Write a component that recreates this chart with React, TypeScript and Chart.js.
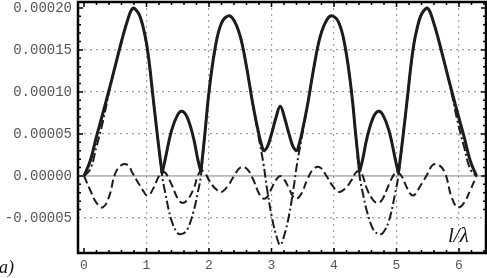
import React, { useEffect, useRef } from "react";
import { Chart, registerables } from "chart.js";

Chart.register(...registerables);

// all series values are in units of 1e-5
const UNIT = 1e-5;

const xPositions = [
  0, 0.1, 0.2, 0.3, 0.4, 0.5, 0.6, 0.7, 0.78, 0.85,
  0.9, 0.95, 1.0, 1.05, 1.1, 1.15, 1.2, 1.25, 1.3, 1.4,
  1.5, 1.57, 1.65, 1.75, 1.82, 1.87, 1.93, 2.0, 2.1, 2.2,
  2.31, 2.4, 2.5, 2.6, 2.7, 2.8, 2.87, 2.93, 3.0, 3.07,
  3.14,
  3.21, 3.28, 3.35, 3.41, 3.48, 3.58, 3.68, 3.78, 3.88, 3.97,
  4.08, 4.18, 4.28, 4.35, 4.41, 4.46, 4.53, 4.63, 4.71, 4.78,
  4.88, 4.98, 5.03, 5.08, 5.13, 5.18, 5.23, 5.28, 5.33, 5.38,
  5.43, 5.5, 5.58, 5.68, 5.78, 5.88, 5.98, 6.08, 6.18, 6.28,
];

// solid curve
const magnitude = [
  0, 1.8, 4.7, 7.4, 10.2, 13.1, 16.0, 18.6, 19.95, 19.6,
  18.9, 17.6, 15.8, 13.1, 9.7, 6.4, 3.2, 0.3, 2.0, 5.4,
  7.3, 7.7, 7.0, 4.6, 2.0, 0.5, 4.7, 10.0, 15.3, 18.2,
  19.05, 18.5, 16.6, 13.0, 8.6, 4.9, 2.9, 3.4, 5.0, 6.9,
  8.3,
  6.9, 5.0, 3.4, 2.9, 4.9, 8.6, 13.0, 16.6, 18.5, 19.05,
  18.2, 15.3, 10.0, 4.7, 0.5, 2.0, 4.6, 7.0, 7.7, 7.3,
  5.4, 2.0, 0.3, 3.2, 6.4, 9.7, 13.1, 15.8, 17.6, 18.9,
  19.6, 19.95, 18.6, 16.0, 13.1, 10.2, 7.4, 4.7, 1.8, 0,
];

// dash-dot curve
const realPart = [
  0, 0.8, 3.5, 6.4, 9.9, 13.1, 16.0, 18.6, 19.95, 19.6,
  18.9, 17.5, 15.6, 12.9, 9.6, 6.3, 3.2, 0, -2.0, -5.3,
  -6.8, -6.9, -6.4, -4.3, -2.0, 0, 4.7, 10.0, 15.2, 18.1,
  19.0, 18.5, 16.6, 13.0, 8.6, 4.4, 1.5, -1.6, -4.7, -6.9,
  -8.2,
  -6.9, -4.7, -1.6, 1.5, 4.4, 8.6, 13.0, 16.6, 18.5, 19.0,
  18.1, 15.2, 10.0, 4.7, 0, -2.0, -4.3, -6.4, -6.9, -6.8,
  -5.3, -2.0, 0, 3.2, 6.3, 9.6, 12.9, 15.6, 17.5, 18.9,
  19.6, 19.95, 18.6, 16.0, 13.1, 9.9, 6.4, 3.5, 0.8, 0,
];

// dashed curve
const imagPart = [
  0, -1.7, -3.2, -3.75, -2.5, 0.3, 1.3, 1.3, 0.3, -0.6,
  -1.2, -1.8, -2.3, -2.2, -1.6, -0.8, 0, 0.4, 0.4, -1.0,
  -2.7, -3.2, -2.9, -1.6, 0, 0.6, 0.4, -0.5, -1.5, -1.9,
  -1.1, 0, 1.0, 0.9, -0.3, -2.1, -2.7, -2.5, -1.5, -0.5,
  0,
  -0.5, -1.5, -2.5, -2.7, -2.1, -0.3, 0.9, 1.0, 0, -1.1,
  -1.9, -1.5, -0.5, 0.4, 0.6, 0, -1.6, -2.9, -3.2, -2.7,
  -1.0, 0.4, 0.4, 0, -0.8, -1.6, -2.2, -2.3, -1.8, -1.2,
  -0.6, 0.3, 1.3, 1.3, 0.3, -2.5, -3.75, -3.2, -1.7, 0,
];

// positions where the solid curve has a sharp corner
const solidCorners = [1.25, 1.87, 2.87, 3.41, 4.41, 5.03];

const X_MIN = -0.096;
const X_MAX = 6.432;
const Y_MIN = -0.0000917;
const Y_MAX = 0.000207;
const Y_STEP = 0.00005;
const X_STEP = 1;
const xAxisTitle = "l/\u03bb";
const panelLabel = "a)";

const MONO = '"Liberation Mono", "DejaVu Sans Mono", monospace';
const SERIF = '"Liberation Serif", "DejaVu Serif", serif';
const INK = "#1c1c1c";

export default function App() {
  const ref = useRef<HTMLCanvasElement>(null);

  useEffect(() => {
    if (!ref.current) return;
    const toPts = (arr: number[]) => xPositions.map((x, i) => ({ x, y: arr[i] * UNIT }));

    // split the solid curve into smooth pieces between its corners
    const solidPieces: { x: number; y: number }[][] = [];
    let cur: { x: number; y: number }[] = [];
    xPositions.forEach((x, i) => {
      const p = { x, y: magnitude[i] * UNIT };
      cur.push(p);
      if (solidCorners.some((c) => Math.abs(c - x) < 1e-9)) {
        solidPieces.push(cur);
        cur = [p];
      }
    });
    solidPieces.push(cur);

    const solidSets = solidPieces.map((pts, k) => ({
      label: "magnitude" + k,
      data: pts,
      borderColor: INK,
      borderWidth: 3,
      pointRadius: 0,
      tension: 0.4,
      borderJoinStyle: "round",
      fill: false,
    }));

    const framePlugin = {
      id: "frameDecor",
      beforeDatasetsDraw(chart: any) {
        const { ctx, chartArea: a, scales } = chart;
        const yz = scales.y.getPixelForValue(0);
        ctx.save();
        ctx.strokeStyle = "#808080";
        ctx.lineWidth = 1;
        ctx.beginPath();
        ctx.moveTo(a.left, yz);
        ctx.lineTo(a.right, yz);
        ctx.stroke();
        ctx.restore();
      },
      afterDraw(chart: any) {
        const { ctx, chartArea: a, scales } = chart;
        const xs = scales.x;
        const ys = scales.y;
        ctx.save();
        ctx.strokeStyle = "#000";
        ctx.lineWidth = 1.5;
        ctx.beginPath();
        for (let k = -4; k <= 20; k++) {
          const v = k * 0.00001;
          if (v < Y_MIN || v > Y_MAX) continue;
          const py = ys.getPixelForValue(v);
          const len = k % 5 === 0 ? 5 : 3;
          ctx.moveTo(a.left, py);
          ctx.lineTo(a.left + len, py);
          ctx.moveTo(a.right, py);
          ctx.lineTo(a.right - len, py);
        }
        for (let k = 0; k <= 32; k++) {
          const v = k * 0.2;
          if (v < X_MIN || v > X_MAX) continue;
          const px = xs.getPixelForValue(v);
          const len = k % 5 === 0 ? 5 : 3;
          ctx.moveTo(px, a.bottom);
          ctx.lineTo(px, a.bottom - len);
          ctx.moveTo(px, a.top);
          ctx.lineTo(px, a.top + len);
        }
        ctx.stroke();
        ctx.lineWidth = 2.5;
        ctx.strokeRect(a.left, a.top, a.right - a.left, a.bottom - a.top);
        ctx.fillStyle = "#111";
        ctx.textBaseline = "alphabetic";
        ctx.textAlign = "left";
        ctx.font = `italic 21px ${SERIF}`;
        ctx.fillText(xAxisTitle, 448, 242);
        ctx.font = `italic 18px ${SERIF}`;
        ctx.fillText(panelLabel, -1, 273);
        ctx.restore();
      },
    };

    const chart = new Chart(ref.current, {
      type: "line",
      data: {
        datasets: [
          ...solidSets,
          {
            label: "real",
            data: toPts(realPart),
            borderColor: INK,
            borderWidth: 2,
            borderDash: [9, 3, 2, 3],
            pointRadius: 0,
            tension: 0.4,
            fill: false,
          },
          {
            label: "imag",
            data: toPts(imagPart),
            borderColor: INK,
            borderWidth: 2,
            borderDash: [8, 4],
            pointRadius: 0,
            tension: 0.4,
            fill: false,
          },
        ],
      },
      options: {
        responsive: false,
        devicePixelRatio: 1,
        animation: false,
        layout: { padding: { left: 0, right: 1, top: 2, bottom: 0 } },
        plugins: { legend: { display: false }, tooltip: { enabled: false } },
        scales: {
          x: {
            type: "linear",
            min: X_MIN,
            max: X_MAX,
            afterFit: (s: any) => {
              s.height = 25;
              s.paddingLeft = 0;
              s.paddingRight = 0;
            },
            ticks: {
              stepSize: X_STEP,
              includeBounds: false,
              maxRotation: 0,
              autoSkip: false,
              padding: 5,
              color: "#555",
              font: { family: MONO, size: 13 },
              callback: (v: any) => String(Math.round(Number(v))),
            },
            grid: {
              drawTicks: false,
              lineWidth: 1.2,
              color: (c: any) =>
                c.tick && Math.abs(c.tick.value) < 1e-9 ? "rgba(0,0,0,0)" : "#a0a0a0",
            },
            border: { display: false, dash: [2, 4] },
          },
          y: {
            type: "linear",
            min: Y_MIN,
            max: Y_MAX,
            afterFit: (s: any) => {
              s.width = 78;
              s.paddingTop = 0;
              s.paddingBottom = 0;
            },
            ticks: {
              stepSize: Y_STEP,
              includeBounds: false,
              padding: 6,
              color: "#555",
              font: { family: MONO, size: 14 },
              callback: (v: any) => {
                const n = Number(v);
                return (Math.abs(n) < 1e-12 ? 0 : n).toFixed(5);
              },
            },
            grid: {
              drawTicks: false,
              lineWidth: 1.2,
              color: (c: any) =>
                c.tick &&
                (Math.abs(c.tick.value) < 1e-12 || Math.abs(c.tick.value - 0.0002) < 1e-9)
                  ? "rgba(0,0,0,0)"
                  : "#a0a0a0",
            },
            border: { display: false, dash: [2, 4] },
          },
        },
      },
      plugins: [framePlugin],
    } as any);

    return () => chart.destroy();
  }, []);

  return (
    <div style={{ position: "fixed", left: 0, top: 0, width: 487, height: 278, background: "#fff" }}>
      <canvas ref={ref} width={487} height={278} style={{ width: 487, height: 278, display: "block" }} />
    </div>
  );
}
